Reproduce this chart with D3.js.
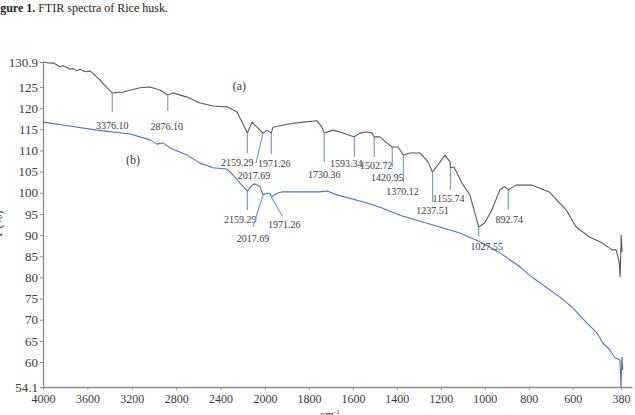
<!DOCTYPE html>
<html>
<head>
<meta charset="utf-8">
<script src="https://cdn.jsdelivr.net/npm/d3@7"></script>
<style>
  html, body { margin: 0; padding: 0; background: #fff; }
  svg text { font-family: "Liberation Serif", "Times New Roman", Tinos, "DejaVu Serif", serif; }
</style>
</head>
<body>
<svg id="chart" width="635" height="415"></svg>
<script>
// wavenumber (cm-1) / transmittance pairs
const specA_wn = [4000, 3937, 3910, 3874, 3847, 3820, 3784, 3757, 3730, 3694, 3667, 3640, 3604, 3577, 3550, 3486, 3423, 3376, 3279, 3126, 3036, 2946, 2876, 2829, 2703, 2586, 2468, 2342, 2252, 2159, 2117, 2018, 1991, 1971, 1964, 1900, 1827, 1763, 1741, 1730, 1691, 1645, 1593, 1568, 1536, 1513, 1503, 1477, 1446, 1421, 1395, 1370, 1340, 1295, 1258, 1238, 1203, 1181, 1158, 1156, 1140, 1104, 1068, 1045, 1027, 1000, 968, 931, 909, 893, 857, 784, 707, 629, 584, 525, 465, 420, 402, 388, 384, 379, 375]
const specA_t = [130.9, 130.6, 130.7, 130.2, 129.8, 130.0, 129.6, 129.2, 129.4, 128.8, 129.2, 128.8, 128.6, 128.8, 128.2, 126.6, 124.8, 123.6, 123.8, 124.8, 125.0, 124.3, 123.1, 123.6, 122.6, 121.2, 120.5, 120.3, 119.1, 114.1, 116.7, 114.1, 114.8, 114.1, 115.5, 116.2, 116.7, 117.0, 115.5, 114.1, 114.8, 114.1, 113.2, 114.1, 114.4, 114.1, 113.2, 113.2, 111.8, 110.8, 110.8, 108.9, 109.4, 109.4, 107.3, 104.9, 107.3, 108.9, 107.3, 105.9, 106.1, 102.3, 99.5, 95.2, 91.9, 92.9, 95.9, 100.7, 101.4, 100.7, 101.8, 101.8, 100.2, 95.9, 91.9, 89.6, 88.1, 86.5, 86.5, 83.6, 80.1, 90.0, 86.0]

const specB_wn = [4000, 3820, 3514, 3216, 3036, 2973, 2919, 2856, 2703, 2586, 2468, 2342, 2288, 2225, 2159, 2117, 2090, 2045, 2018, 1991, 1977, 1971, 1945, 1923, 1841, 1750, 1718, 1672, 1536, 1467, 1386, 1236, 1113, 1022, 931, 840, 781, 659, 599, 535, 490, 463, 431, 408, 385, 380, 376, 372]
const specB_t = [116.7, 116.0, 114.8, 113.9, 112.5, 111.5, 111.8, 110.6, 108.9, 107.0, 105.9, 105.6, 104.2, 102.3, 100.4, 101.8, 102.1, 101.4, 99.5, 99.9, 99.9, 99.0, 99.9, 100.2, 100.2, 100.2, 100.4, 99.5, 97.6, 96.4, 94.7, 92.4, 90.5, 88.4, 85.8, 82.5, 79.9, 75.4, 72.8, 69.2, 66.9, 64.5, 62.9, 61.0, 60.5, 54.1, 61.2, 58.1]

const peaksA_label = ['3376.10', '2876.10', '2159.29', '2017.69', '1971.26', '1730.36', '1593.34', '1502.72', '1420.95', '1370.12', '1237.51', '1155.74', '1027.55', '892.74']
const peaksA_t = [123.6, 123.1, 114.1, 114.1, 114.1, 114.1, 113.2, 113.2, 110.8, 108.9, 104.9, 105.9, 91.9, 100.7]
const peaksB_label = ['2159.29', '2017.69', '1971.26']
const peaksB_t = [100.4, 99.5, 99.0]

const xTicks = [4000, 3600, 3200, 2800, 2400, 2000, 1800, 1600, 1400, 1200, 1000, 800, 600, 380]
const yTicks = [54.1, 60, 65, 70, 75, 80, 85, 90, 95, 100, 105, 110, 115, 120, 125, 130.9]

// marker layout (px): line end offset from peak, label centre offset from line end
const markA = [
  [0, 19, 0, 14], [0, 16, -1, 15], [0, 20, -10, 9], [-7, 30, -2, 12], [0, 21, 3, 9],
  [0, 29, 0, 12], [0, 20, -8, 7], [0, 20, 2, 9], [0, 20, -5, 10], [0, 27, -1, 9],
  [0, 30, 0, 8], [0, 22, -2, 9], [0, 9, 8, 10], [0, 20, 1, 10]
]
const markB = [[0, 19, -7, 9], [-10, 32, 0, 12], [11, 19, 2, 9]]

const svg = d3.select('#chart')

const x = d3.scaleLinear()
  .domain([4000, 2000, 330])
  .range([43, 265, 632])
const y = d3.scaleLinear()
  .domain([54.1, 130.9])
  .range([387, 62])

const axisColor = '#8c8c8c'
const textColor = '#3a3a3a'

// title (cropped on the left like the source)
const title = svg.append('text')
  .attr('x', -10.5)
  .attr('y', 12)
  .attr('font-size', 12)
  .attr('fill', '#222')
title.append('tspan').attr('font-weight', 'bold').text('Figure 1.')
title.append('tspan').text(' FTIR spectra of Rice husk.')

// axes
const xAxis = svg.append('g')
  .attr('transform', `translate(0,${y(54.1)})`)
  .call(d3.axisBottom(x).tickValues(xTicks).tickFormat(d3.format('d')).tickSizeInner(3).tickSizeOuter(0))
const yAxis = svg.append('g')
  .attr('transform', `translate(${x(4000)},0)`)
  .call(d3.axisLeft(y).tickValues(yTicks).tickFormat(d => d).tickSizeInner(3).tickSizeOuter(0))

;[xAxis, yAxis].forEach(g => {
  g.attr('font-family', null)
  g.select('.domain').attr('stroke', axisColor).attr('stroke-width', 1.3)
  g.selectAll('.tick line').attr('stroke', axisColor)
  g.selectAll('.tick text').attr('fill', textColor)
})
xAxis.selectAll('.tick text').attr('font-size', 12).attr('dy', '0.85em')
yAxis.selectAll('.tick text').attr('font-size', 13).attr('x', -5)

// axis titles
svg.append('text')
  .attr('transform', `translate(2,${(y(100) + y(85)) / 2}) rotate(-90)`)
  .attr('text-anchor', 'middle')
  .attr('font-size', 12)
  .attr('fill', textColor)
  .text('T (%)')

const xt = svg.append('text')
  .attr('x', 330)
  .attr('y', 418)
  .attr('text-anchor', 'middle')
  .attr('font-size', 11)
  .attr('fill', textColor)
xt.append('tspan').text('cm')
xt.append('tspan').attr('dy', -4).attr('font-size', 7).text('-1')

// spectra
const line = d3.line()
  .x(d => x(d[0]))
  .y(d => y(d[1]))

svg.append('path')
  .datum(d3.zip(specA_wn, specA_t))
  .attr('fill', 'none')
  .attr('stroke', '#5a5a5a')
  .attr('stroke-width', 1.1)
  .attr('stroke-linejoin', 'round')
  .attr('d', line)

svg.append('path')
  .datum(d3.zip(specB_wn, specB_t))
  .attr('fill', 'none')
  .attr('stroke', '#4a72c4')
  .attr('stroke-width', 1.1)
  .attr('stroke-linejoin', 'round')
  .attr('d', line)

// peak markers
function drawPeaks(labels, ts, marks) {
  labels.forEach((lab, i) => {
    const px = x(+lab)
    const py = y(ts[i])
    const m = marks[i]
    const ex = px + m[0]
    const ey = py + m[1]
    svg.append('line')
      .attr('x1', px).attr('y1', py)
      .attr('x2', ex).attr('y2', ey)
      .attr('stroke', '#7c9bd6')
      .attr('stroke-width', 1.2)
    svg.append('text')
      .attr('x', ex + m[2])
      .attr('y', ey + m[3])
      .attr('dy', '0.35em')
      .attr('text-anchor', 'middle')
      .attr('font-size', 10)
      .attr('fill', textColor)
      .text(lab)
  })
}
drawPeaks(peaksA_label, peaksA_t, markA)
drawPeaks(peaksB_label, peaksB_t, markB)

svg.append('text')
  .attr('x', x(2230)).attr('y', y(124.4))
  .attr('text-anchor', 'middle')
  .attr('font-size', 12)
  .attr('fill', textColor)
  .text('(a)')
svg.append('text')
  .attr('x', x(3190)).attr('y', y(106.7))
  .attr('text-anchor', 'middle')
  .attr('font-size', 12)
  .attr('fill', textColor)
  .text('(b)')
</script>
</body>
</html>
